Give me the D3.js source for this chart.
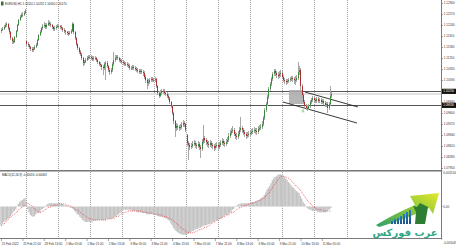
<!DOCTYPE html>
<html><head><meta charset="utf-8">
<script src="https://cdn.jsdelivr.net/npm/d3@7"></script>
<style>body{margin:0;background:#fff}svg{display:block}</style>
</head><body><svg id="c" width="456" height="250"></svg>
<script>
// ---------- DATA (EURUSD H1) ----------
const firstOpen = 1.1206;
const gapOpens = {19: 1.1176, 139: 1.0894};
const closes = [
1.1209,1.1212,1.1218,1.1224,1.1227,1.1215,1.1203,1.1185,1.1176,1.1173,
1.1188,1.1206,1.1224,1.1239,1.1248,1.1254,1.1254,1.1260,1.1266,1.1167,
1.1164,1.1158,1.1152,1.1149,1.1152,1.1158,1.1164,1.1179,1.1194,1.1203,
1.1215,1.1221,1.1224,1.1218,1.1224,1.1230,1.1227,1.1224,1.1218,1.1212,
1.1215,1.1218,1.1221,1.1221,1.1218,1.1215,1.1209,1.1206,1.1203,1.1200,
1.1197,1.1200,1.1206,1.1227,1.1203,1.1185,1.1167,1.1155,1.1143,1.1137,
1.1125,1.1110,1.1113,1.1119,1.1125,1.1128,1.1128,1.1125,1.1122,1.1125,
1.1125,1.1119,1.1113,1.1107,1.1104,1.1098,1.1095,1.1107,1.1110,1.1101,
1.1089,1.1083,1.1089,1.1107,1.1119,1.1125,1.1128,1.1125,1.1119,1.1116,
1.1113,1.1110,1.1107,1.1107,1.1104,1.1101,1.1095,1.1095,1.1098,1.1095,
1.1092,1.1089,1.1086,1.1083,1.1086,1.1083,1.1080,1.1068,1.1059,1.1050,
1.1053,1.1059,1.1062,1.1059,1.1059,1.1062,1.1041,1.1020,1.1011,1.1020,
1.1026,1.1026,1.1020,1.1017,1.1011,1.1005,1.0993,1.0981,1.0960,1.0936,
1.0915,1.0921,1.0918,1.0915,1.0918,1.0924,1.0930,1.0927,1.0909,1.0870,
1.0864,1.0858,1.0861,1.0867,1.0870,1.0864,1.0861,1.0867,1.0858,1.0852,
1.0873,1.0885,1.0879,1.0873,1.0867,1.0864,1.0870,1.0864,1.0861,1.0855,
1.0861,1.0864,1.0858,1.0864,1.0870,1.0876,1.0870,1.0867,1.0873,1.0879,
1.0891,1.0900,1.0906,1.0909,1.0897,1.0891,1.0888,1.0897,1.0909,1.0915,
1.0909,1.0903,1.0897,1.0891,1.0894,1.0897,1.0900,1.0903,1.0906,1.0909,
1.0906,1.0903,1.0912,1.0915,1.0918,1.0927,1.0945,1.0969,1.0987,1.1008,
1.1032,1.1047,1.1062,1.1077,1.1086,1.1080,1.1074,1.1071,1.1077,1.1080,
1.1068,1.1059,1.1056,1.1053,1.1056,1.1059,1.1062,1.1065,1.1062,1.1059,
1.1059,1.1065,1.1083,1.1089,1.1041,1.1014,1.0993,1.0981,1.0975,1.0972,
1.0981,1.0993,1.0999,1.1005,1.0999,1.0996,1.1002,1.0996,1.0999,1.0993,
1.0996,1.0990,1.0984,1.0987,1.0975,1.0987,1.1011,1.1017];
const highs = [
1.1215,1.1218,1.1224,1.1230,1.1233,1.1230,1.1218,1.1206,1.1188,1.1182,
1.1191,1.1209,1.1227,1.1242,1.1254,1.1260,1.1263,1.1266,1.1272,1.1179,
1.1173,1.1167,1.1161,1.1158,1.1158,1.1164,1.1170,1.1182,1.1197,1.1209,
1.1218,1.1227,1.1233,1.1230,1.1230,1.1239,1.1236,1.1233,1.1227,1.1221,
1.1221,1.1224,1.1227,1.1227,1.1224,1.1224,1.1218,1.1215,1.1209,1.1206,
1.1206,1.1206,1.1212,1.1233,1.1230,1.1206,1.1188,1.1170,1.1158,1.1149,
1.1140,1.1128,1.1119,1.1125,1.1131,1.1134,1.1134,1.1134,1.1131,1.1131,
1.1131,1.1128,1.1122,1.1116,1.1113,1.1107,1.1104,1.1113,1.1116,1.1116,
1.1104,1.1095,1.1095,1.1113,1.1143,1.1134,1.1134,1.1134,1.1128,1.1125,
1.1122,1.1119,1.1116,1.1113,1.1113,1.1110,1.1107,1.1101,1.1104,1.1104,
1.1101,1.1098,1.1095,1.1092,1.1092,1.1092,1.1089,1.1086,1.1074,1.1065,
1.1062,1.1065,1.1068,1.1068,1.1065,1.1068,1.1065,1.1044,1.1026,1.1029,
1.1032,1.1032,1.1032,1.1026,1.1023,1.1017,1.1008,1.0996,1.0984,1.0963,
1.0939,1.0930,1.0927,1.0924,1.0927,1.0933,1.0939,1.0936,1.0930,1.0897,
1.0876,1.0870,1.0870,1.0876,1.0879,1.0876,1.0870,1.0876,1.0873,1.0864,
1.0882,1.0924,1.0891,1.0885,1.0879,1.0876,1.0879,1.0876,1.0870,1.0867,
1.0870,1.0873,1.0870,1.0873,1.0879,1.0885,1.0882,1.0876,1.0882,1.0888,
1.0900,1.0909,1.0915,1.0921,1.0915,1.0903,1.0900,1.0906,1.0918,1.0948,
1.0921,1.0915,1.0909,1.0903,1.0903,1.0906,1.0909,1.0912,1.0915,1.0918,
1.0915,1.0915,1.0921,1.0924,1.0927,1.0936,1.0951,1.0975,1.0993,1.1014,
1.1038,1.1053,1.1068,1.1083,1.1092,1.1092,1.1086,1.1083,1.1086,1.1089,
1.1086,1.1074,1.1065,1.1062,1.1062,1.1065,1.1068,1.1071,1.1071,1.1068,
1.1071,1.1074,1.1113,1.1101,1.1095,1.1047,1.1020,1.0999,1.0987,1.0984,
1.0987,1.0999,1.1005,1.1011,1.1011,1.1005,1.1008,1.1008,1.1005,1.1005,
1.1002,1.1002,1.0996,1.0993,1.0993,1.0993,1.1041,1.1023];
const lows = [
1.1200,1.1206,1.1209,1.1215,1.1218,1.1209,1.1197,1.1179,1.1167,1.1167,
1.1170,1.1185,1.1203,1.1221,1.1236,1.1245,1.1248,1.1251,1.1257,1.1161,
1.1158,1.1152,1.1146,1.1143,1.1143,1.1149,1.1155,1.1161,1.1176,1.1191,
1.1200,1.1209,1.1215,1.1212,1.1212,1.1221,1.1221,1.1218,1.1212,1.1206,
1.1206,1.1209,1.1215,1.1212,1.1212,1.1209,1.1203,1.1200,1.1194,1.1194,
1.1191,1.1194,1.1197,1.1203,1.1197,1.1179,1.1161,1.1149,1.1137,1.1131,
1.1119,1.1101,1.1104,1.1110,1.1116,1.1119,1.1122,1.1119,1.1116,1.1116,
1.1119,1.1113,1.1107,1.1101,1.1098,1.1089,1.1074,1.1089,1.1059,1.1095,
1.1083,1.1074,1.1077,1.1083,1.1101,1.1113,1.1119,1.1119,1.1113,1.1110,
1.1107,1.1104,1.1101,1.1101,1.1098,1.1095,1.1089,1.1089,1.1089,1.1089,
1.1086,1.1083,1.1080,1.1077,1.1077,1.1077,1.1071,1.1062,1.1050,1.1032,
1.1041,1.1047,1.1053,1.1053,1.1053,1.1053,1.1035,1.1014,1.1005,1.1008,
1.1014,1.1017,1.1014,1.1011,1.1005,1.0999,1.0987,1.0975,1.0954,1.0927,
1.0888,1.0906,1.0909,1.0906,1.0909,1.0912,1.0918,1.0918,1.0903,1.0861,
1.0819,1.0849,1.0852,1.0855,1.0861,1.0855,1.0852,1.0855,1.0849,1.0825,
1.0846,1.0867,1.0870,1.0864,1.0858,1.0855,1.0858,1.0855,1.0852,1.0846,
1.0849,1.0855,1.0849,1.0852,1.0858,1.0864,1.0861,1.0858,1.0861,1.0867,
1.0873,1.0885,1.0894,1.0900,1.0891,1.0882,1.0879,1.0882,1.0891,1.0903,
1.0900,1.0894,1.0888,1.0882,1.0885,1.0888,1.0891,1.0894,1.0897,1.0900,
1.0897,1.0894,1.0897,1.0906,1.0909,1.0912,1.0921,1.0939,1.0963,1.0981,
1.1002,1.1026,1.1041,1.1056,1.1071,1.1071,1.1065,1.1062,1.1065,1.1068,
1.1062,1.1053,1.1047,1.1044,1.1047,1.1050,1.1053,1.1056,1.1053,1.1047,
1.1044,1.1053,1.1059,1.1074,1.1029,1.1005,1.0987,1.0975,1.0969,1.0966,
1.0969,1.0975,1.0987,1.0993,1.0993,1.0990,1.0990,1.0990,1.0990,1.0987,
1.0987,1.0984,1.0978,1.0978,1.0960,1.0969,1.0981,1.1005];
const macdHist = [
-0.0029,-0.0027,-0.0024,-0.0022,-0.0021,-0.0019,-0.0018,-0.0015,-0.0012,-0.0009,
-0.0007,-0.0004,0.0001,0.0004,0.0007,0.0009,0.0010,0.0012,0.0013,0.0004,
-0.0004,-0.0009,-0.0013,-0.0015,-0.0016,-0.0015,-0.0012,-0.0010,-0.0010,-0.0009,
-0.0005,-0.0004,-0.0002,-0.0001,0.0002,0.0004,0.0005,0.0005,0.0005,0.0005,
0.0005,0.0005,0.0005,0.0005,0.0005,0.0004,0.0004,0.0002,0.0002,0.0001,
0.0001,-0.0001,-0.0002,-0.0002,-0.0004,-0.0007,-0.0009,-0.0012,-0.0013,-0.0016,
-0.0018,-0.0021,-0.0022,-0.0024,-0.0024,-0.0024,-0.0024,-0.0024,-0.0024,-0.0022,
-0.0022,-0.0022,-0.0021,-0.0021,-0.0021,-0.0021,-0.0021,-0.0021,-0.0021,-0.0019,
-0.0019,-0.0019,-0.0019,-0.0018,-0.0018,-0.0016,-0.0015,-0.0013,-0.0012,-0.0010,
-0.0009,-0.0007,-0.0005,-0.0005,-0.0005,-0.0005,-0.0005,-0.0005,-0.0007,-0.0007,
-0.0007,-0.0007,-0.0009,-0.0009,-0.0009,-0.0009,-0.0010,-0.0010,-0.0010,-0.0012,
-0.0012,-0.0012,-0.0012,-0.0012,-0.0012,-0.0012,-0.0013,-0.0015,-0.0015,-0.0016,
-0.0016,-0.0016,-0.0018,-0.0018,-0.0019,-0.0021,-0.0022,-0.0026,-0.0029,-0.0033,
-0.0036,-0.0038,-0.0040,-0.0041,-0.0043,-0.0043,-0.0044,-0.0044,-0.0044,-0.0043,
-0.0043,-0.0041,-0.0040,-0.0038,-0.0038,-0.0036,-0.0035,-0.0035,-0.0033,-0.0033,
-0.0032,-0.0030,-0.0030,-0.0029,-0.0029,-0.0027,-0.0027,-0.0026,-0.0024,-0.0024,
-0.0022,-0.0022,-0.0021,-0.0019,-0.0019,-0.0018,-0.0016,-0.0015,-0.0013,-0.0013,
-0.0012,-0.0010,-0.0009,-0.0005,-0.0004,-0.0001,0.0001,0.0002,0.0004,0.0004,
0.0005,0.0005,0.0005,0.0005,0.0005,0.0005,0.0005,0.0007,0.0007,0.0007,
0.0007,0.0009,0.0009,0.0010,0.0012,0.0013,0.0015,0.0018,0.0022,0.0026,
0.0029,0.0032,0.0036,0.0041,0.0044,0.0046,0.0047,0.0049,0.0050,0.0050,
0.0049,0.0047,0.0046,0.0043,0.0041,0.0038,0.0036,0.0033,0.0030,0.0029,
0.0026,0.0024,0.0022,0.0021,0.0016,0.0012,0.0007,0.0004,0.0001,-0.0002,
-0.0004,-0.0005,-0.0005,-0.0007,-0.0007,-0.0007,-0.0007,-0.0009,-0.0009,-0.0009,
-0.0009,-0.0009,-0.0009,-0.0009,-0.0007,-0.0005,-0.0004,-0.0002];
const macdSignal = [
-0.0030,-0.0029,-0.0027,-0.0026,-0.0022,-0.0021,-0.0019,-0.0016,-0.0015,-0.0013,
-0.0012,-0.0010,-0.0009,-0.0005,-0.0004,-0.0002,-0.0001,0.0001,0.0002,0.0005,
0.0005,0.0004,0.0002,0.0001,-0.0001,-0.0004,-0.0005,-0.0007,-0.0009,-0.0009,
-0.0009,-0.0007,-0.0007,-0.0005,-0.0004,-0.0002,-0.0001,-0.0001,0.0001,0.0001,
0.0002,0.0002,0.0002,0.0004,0.0004,0.0004,0.0004,0.0004,0.0004,0.0002,
0.0002,0.0001,0.0001,-0.0001,-0.0002,-0.0004,-0.0005,-0.0005,-0.0007,-0.0009,
-0.0010,-0.0012,-0.0013,-0.0015,-0.0016,-0.0018,-0.0019,-0.0019,-0.0019,-0.0021,
-0.0021,-0.0021,-0.0021,-0.0021,-0.0021,-0.0021,-0.0021,-0.0021,-0.0021,-0.0021,
-0.0019,-0.0019,-0.0019,-0.0019,-0.0018,-0.0018,-0.0016,-0.0015,-0.0015,-0.0013,
-0.0012,-0.0010,-0.0010,-0.0009,-0.0009,-0.0007,-0.0007,-0.0007,-0.0007,-0.0007,
-0.0007,-0.0007,-0.0007,-0.0007,-0.0007,-0.0007,-0.0009,-0.0009,-0.0009,-0.0009,
-0.0010,-0.0010,-0.0010,-0.0010,-0.0012,-0.0012,-0.0012,-0.0012,-0.0013,-0.0013,
-0.0013,-0.0015,-0.0015,-0.0016,-0.0016,-0.0018,-0.0018,-0.0019,-0.0021,-0.0022,
-0.0024,-0.0026,-0.0027,-0.0030,-0.0032,-0.0033,-0.0035,-0.0036,-0.0038,-0.0040,
-0.0040,-0.0041,-0.0041,-0.0041,-0.0040,-0.0040,-0.0038,-0.0038,-0.0036,-0.0036,
-0.0035,-0.0035,-0.0033,-0.0032,-0.0032,-0.0030,-0.0029,-0.0027,-0.0026,-0.0024,
-0.0024,-0.0022,-0.0021,-0.0019,-0.0019,-0.0018,-0.0016,-0.0016,-0.0015,-0.0013,
-0.0013,-0.0012,-0.0010,-0.0009,-0.0009,-0.0007,-0.0005,-0.0004,-0.0002,-0.0002,
-0.0001,0.0001,0.0001,0.0002,0.0002,0.0004,0.0004,0.0005,0.0005,0.0005,
0.0007,0.0007,0.0009,0.0009,0.0010,0.0012,0.0012,0.0013,0.0016,0.0018,
0.0021,0.0022,0.0026,0.0029,0.0032,0.0035,0.0038,0.0041,0.0044,0.0046,
0.0047,0.0047,0.0047,0.0046,0.0044,0.0044,0.0043,0.0040,0.0038,0.0036,
0.0033,0.0032,0.0030,0.0027,0.0026,0.0022,0.0019,0.0016,0.0013,0.0010,
0.0007,0.0005,0.0004,0.0001,-0.0001,-0.0002,-0.0004,-0.0004,-0.0005,-0.0005,
-0.0005,-0.0007,-0.0007,-0.0007,-0.0007,-0.0007,-0.0007,-0.0007];
const timeTickBars = [0,16,32,48,64,80,96,112,128,144,160,176,192,208,224,240];
const timeLabels = ["25 Feb 2022","25 Feb 21:00","28 Feb 13:00","1 Mar 05:00","1 Mar 21:00","2 Mar 13:00","3 Mar 05:00","3 Mar 21:00","4 Mar 13:00","7 Mar 05:00","7 Mar 21:00","8 Mar 13:00","9 Mar 05:00","9 Mar 21:00","10 Mar 13:00","11 Mar 05:00"];
const daySeparatorBars = [19,43,67,91,115,139,163,187,211,235,259];
const priceTicks = [1.1290,1.1257,1.1224,1.1191,1.1158,1.1125,1.1092,1.1059,1.1026,1.0993,1.0960,1.0927,1.0894,1.0861,1.0828,1.0795];
const levelLines = [1.1025, 1.0983];
const macdTickLabels = [{v:0.005516,t:"0.005516"},{v:0,t:"0.00"},{v:-0.005049,t:"-0.005049"}];
const channelUpper = [[227.4,1.1023],[267,1.0978]];
const channelLower = [[210.9,1.0993],[266.3,1.0930]];
const boxZone = {b0:215.4,b1:225.9,p0:1.1029,p1:1.0987};
const arrowMark = {b:225.9,p:1.0966};
const titleText = "EURUSD,H1  1.10110 1.10232 1.10050 1.10170";
const macdTitle = "MACD(12,26,9) -0.00016 -0.00063";

// ---------- DRAW ----------
const svg = d3.select('#c');
const R = 441; // right edge of plot
const FONT = "'Liberation Sans', Arial, sans-serif";
const x = d3.scaleLinear().domain([0,247]).range([1,331.2]);
const yP = d3.scaleLinear().domain([1.0795,1.1290]).range([168,3]);
const yM = d3.scaleLinear().domain([-0.005049,0.005516]).range([239,171]);

svg.append('rect').attr('width',456).attr('height',250).attr('fill','#fff');

// day separators (dotted)
const g0 = svg.append('g');
daySeparatorBars.forEach(b=>{
  const xx = Math.round(x(b-0.5))+0.5;
  g0.append('line').attr('x1',xx).attr('x2',xx).attr('y1',0).attr('y2',170)
    .attr('stroke','#8c8c8c').attr('stroke-width',0.8).attr('stroke-dasharray','1,1');
  g0.append('line').attr('x1',xx).attr('x2',xx).attr('y1',172).attr('y2',238)
    .attr('stroke','#8c8c8c').attr('stroke-width',0.8).attr('stroke-dasharray','1,1');
});

// bid line (last close)
svg.append('line').attr('x1',0).attr('x2',R).attr('y1',yP(closes[closes.length-1])).attr('y2',yP(closes[closes.length-1]))
  .attr('stroke','#d8d8d8').attr('stroke-width',1.6);

// level lines
levelLines.forEach(v=>{
  svg.append('line').attr('x1',0).attr('x2',R).attr('y1',Math.round(yP(v))+0.5).attr('y2',Math.round(yP(v))+0.5)
    .attr('stroke','#555').attr('stroke-width',1);
});

// zone box
svg.append('rect').attr('x',x(boxZone.b0)).attr('y',yP(boxZone.p0))
  .attr('width',x(boxZone.b1)-x(boxZone.b0)).attr('height',yP(boxZone.p1)-yP(boxZone.p0))
  .attr('fill','#a9a9a9').attr('opacity',0.85);

// channel
[channelUpper, channelLower].forEach(c=>{
  svg.append('line').attr('x1',x(c[0][0])).attr('y1',yP(c[0][1])).attr('x2',x(c[1][0])).attr('y2',yP(c[1][1]))
    .attr('stroke','#222').attr('stroke-width',0.9);
});

// candles
const gc = svg.append('g');
closes.forEach((c,i)=>{
  const o = i===0 ? firstOpen : (gapOpens[i]!==undefined ? gapOpens[i] : closes[i-1]);
  const xx = Math.round(x(i));
  gc.append('line').attr('x1',xx+0.5).attr('x2',xx+0.5).attr('y1',yP(highs[i])).attr('y2',yP(lows[i]))
    .attr('stroke','#a8a8a8').attr('stroke-width',1);
  const top = yP(Math.max(o,c)), bot = yP(Math.min(o,c));
  gc.append('rect').attr('x',xx).attr('y',top).attr('width',1).attr('height',Math.max(0.8,bot-top))
    .attr('fill', c>=o ? '#3a8a3d' : '#ad3030');
});

// arrow mark
svg.append('path').attr('d',`M${x(arrowMark.b)-1},${yP(arrowMark.p)+1.5} L${x(arrowMark.b)},${yP(arrowMark.p)-1.5} L${x(arrowMark.b)+1},${yP(arrowMark.p)+1.5}`)
  .attr('fill','none').attr('stroke','#7ccf7c').attr('stroke-width',0.8);

// MACD histogram
const gm = svg.append('g');
macdHist.forEach((v,i)=>{
  const y0 = yM(0), y1 = yM(v);
  gm.append('rect').attr('x',x(i)-0.7).attr('width',1.4)
    .attr('y',Math.min(y0,y1)).attr('height',Math.abs(y1-y0))
    .attr('fill','#c4c4c4');
});
// signal line
svg.append('path').datum(macdSignal)
  .attr('d', d3.line().x((d,i)=>x(i)).y(d=>yM(d)))
  .attr('fill','none').attr('stroke','#e8454a').attr('stroke-width',0.8).attr('stroke-dasharray','1,1');

// panel borders
svg.append('line').attr('x1',0).attr('x2',R).attr('y1',170.5).attr('y2',170.5).attr('stroke','#7a7a7a').attr('stroke-width',1);
svg.append('line').attr('x1',0).attr('x2',R).attr('y1',171.5).attr('y2',171.5).attr('stroke','#b5b5b5').attr('stroke-width',1);
svg.append('line').attr('x1',0).attr('x2',R).attr('y1',238.5).attr('y2',238.5).attr('stroke','#7a7a7a').attr('stroke-width',1);
svg.append('line').attr('x1',R+0.5).attr('x2',R+0.5).attr('y1',0).attr('y2',239).attr('stroke','#7a7a7a').attr('stroke-width',1);

// price axis
const ax = svg.append('g').attr('transform',`translate(${R+0.5},0)`)
  .call(d3.axisRight(yP).tickValues(priceTicks).tickFormat(d3.format('.5f')).tickSize(1.5).tickPadding(0.8));
ax.select('.domain').remove();
ax.selectAll('line').attr('stroke','#666').attr('stroke-width',0.6);
ax.selectAll('text').attr('font-family',FONT).attr('font-size',3).attr('fill','#333');

// level labels (black boxes)
levelLines.forEach(v=>{
  const yy = yP(v);
  svg.append('rect').attr('x',R+1).attr('y',yy-2.6).attr('width',14).attr('height',5.2).attr('fill','#111');
  svg.append('text').attr('x',R+2.2).attr('y',yy+1.1).text(d3.format('.5f')(v))
    .attr('font-family',FONT).attr('font-size',3).attr('fill','#fff');
});

// MACD axis
macdTickLabels.forEach(d=>{
  const yy = d.v===0 ? yM(0) : (d.v>0 ? 173 : 243);
  svg.append('line').attr('x1',R).attr('x2',R+1.5).attr('y1',d.v===0?yM(0):yM(d.v)).attr('y2',d.v===0?yM(0):yM(d.v)).attr('stroke','#666').attr('stroke-width',0.6);
  svg.append('text').attr('x',R+2.3).attr('y',yy+1.1).text(d.t)
    .attr('font-family',FONT).attr('font-size',3).attr('fill','#333');
});

// time axis
const tx = svg.append('g').attr('transform','translate(0,239)')
  .call(d3.axisBottom(x).tickValues(timeTickBars).tickFormat((d,i)=>timeLabels[i]).tickSize(2).tickPadding(2));
tx.select('.domain').remove();
tx.selectAll('line').attr('stroke','#666').attr('stroke-width',0.6);
tx.selectAll('text').attr('text-anchor','start').attr('font-family',FONT).attr('font-size',3).attr('fill','#333').attr('dx',0.3);

// titles
svg.append('rect').attr('x',1).attr('y',1.5).attr('width',2.5).attr('height',4).attr('fill','#3b6e3b');
svg.append('text').attr('x',5).attr('y',5).text(titleText).attr('font-family',FONT).attr('font-size',2.9).attr('fill','#222');
svg.append('text').attr('x',2).attr('y',176).text(macdTitle).attr('font-family',FONT).attr('font-size',2.9).attr('fill','#222');

// logo
const defs = svg.append('defs');
const lg = defs.append('linearGradient').attr('id','lg').attr('x1','0').attr('x2','1').attr('y1','1').attr('y2','0');
lg.append('stop').attr('offset','0').attr('stop-color','#2f9e6a');
lg.append('stop').attr('offset','0.55').attr('stop-color','#8cc63f');
lg.append('stop').attr('offset','1').attr('stop-color','#e4e82a');
const bg = defs.append('linearGradient').attr('id','bg').attr('x1','0').attr('x2','0').attr('y1','0').attr('y2','1');
bg.append('stop').attr('offset','0').attr('stop-color','#2a7fc0');
bg.append('stop').attr('offset','1').attr('stop-color','#1b4f8a');
const logo = svg.append('g');
logo.append('path').attr('d','M376,225 Q396,213 415,205 L410,196 L439,193 L433,214 L429,208 Q404,220 379,227 Z').attr('fill','url(#lg)');
[[391,3],[394,5],[397,6],[400,8],[403,10],[406,12],[409,14]].forEach(b=>{
  logo.append('rect').attr('x',b[0]).attr('y',224-b[1]).attr('width',2).attr('height',b[1]).attr('fill','url(#bg)');
});
logo.append('path').attr('d','M415,224 L416,212 L413,206 L417,207 L420,203 L424,205 L428,207 L427,213 L425,224 Z').attr('fill','#2e7d32');
logo.append('text').attr('x',405).attr('y',236).attr('text-anchor','middle').text('عرب فوركس')
  .attr('font-family',"'DejaVu Sans', 'Noto Sans', sans-serif").attr('font-weight','bold').attr('font-size',10).attr('fill','#2fa784');
</script></body></html>
